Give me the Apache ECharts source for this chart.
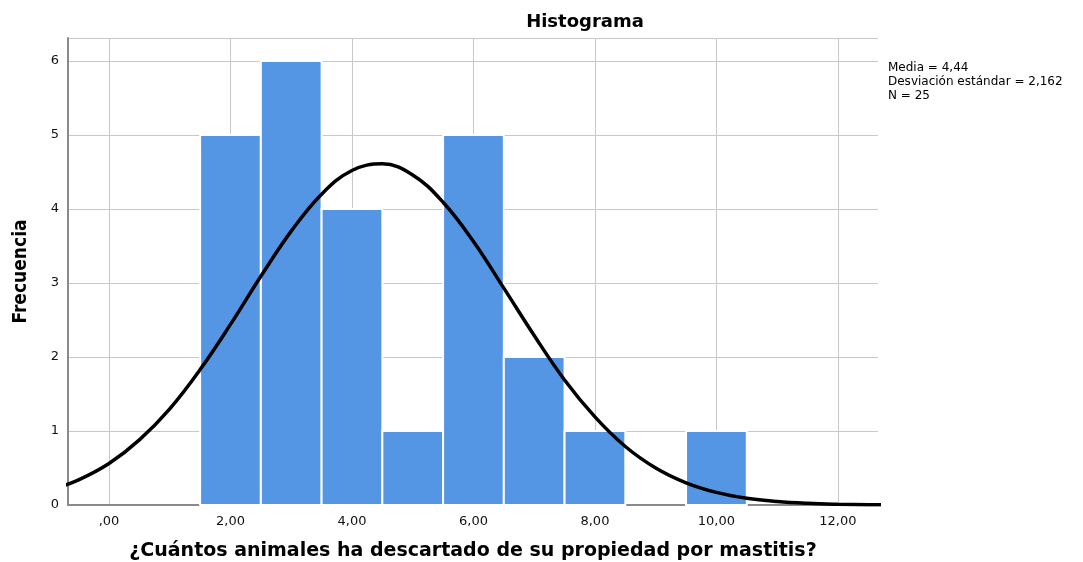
<!DOCTYPE html>
<html>
<head>
<meta charset="utf-8">
<script src="https://cdn.jsdelivr.net/npm/echarts@6/dist/echarts.min.js"></script>
<style>
  html, body { margin: 0; padding: 0; background: #fff; }
  #container { width: 1083px; height: 562px; }
</style>
</head>
<body>
<div id="container"></div>
<script>
// datos del histograma
var binCenters = [2, 3, 4, 5, 6, 7, 8, 10];
var binCounts = [5, 6, 4, 1, 5, 2, 1, 1];
var binWidth = 1;

// curva normal
var curveX = [-1, -0.5, 0, 0.5, 1, 1.5, 2, 2.5, 3, 3.5, 4, 4.5, 5, 5.5, 6, 6.5, 7, 7.5, 8, 8.5, 9, 9.5, 10, 10.5, 11, 11.5, 12, 12.5, 13];
var curveY = [0.19, 0.34, 0.56, 0.88, 1.30, 1.83, 2.44, 3.09, 3.70, 4.20, 4.52, 4.61, 4.46, 4.09, 3.56, 2.93, 2.29, 1.69, 1.19, 0.79, 0.50, 0.30, 0.17, 0.09, 0.046, 0.022, 0.010, 0.004, 0.002];

var xTickValues = [0, 2, 4, 6, 8, 10, 12];
var xTickLabels = [',00', '2,00', '4,00', '6,00', '8,00', '10,00', '12,00'];
var statsLines = ['Media = 4,44', 'Desviación estándar = 2,162', 'N = 25'];

var barData = [];
for (var i = 0; i < binCenters.length; i++) {
	barData.push([binCenters[i] - binWidth / 2, binCenters[i] + binWidth / 2, binCounts[i]]);
}
var curveData = [];
for (var j = 0; j < curveX.length; j++) {
	curveData.push([curveX[j], curveY[j]]);
}

var myChart = echarts.init(document.getElementById('container'));
var option = {
	backgroundColor: '#fff',
	animation: false,
	title: {
		text: 'Histograma',
		left: 580,
		top: 8,
		textAlign: 'center',
		textStyle: { fontFamily: 'DejaVu Sans', fontSize: 18, fontWeight: 'bold', color: '#000' }
	},
	graphic: [{
		type: 'text',
		x: 888,
		y: 61,
		style: {
			text: statsLines.join('\n'),
			font: '12px "DejaVu Sans"',
			lineHeight: 14,
			fill: '#000'
		}
	}],
	grid: { left: 68, right: 205, top: 38, bottom: 57, outerBoundsMode: 'none' },
	xAxis: {
		type: 'value',
		min: -0.675,
		max: 12.66,
		axisLine: { show: true, onZero: false, lineStyle: { color: '#8a8a8a', width: 2 } },
		axisTick: { show: false, customValues: xTickValues },
		axisLabel: {
			customValues: xTickValues,
			margin: 10,
			fontFamily: 'DejaVu Sans',
			fontSize: 13,
			color: '#111',
			formatter: function (v) {
				var k = xTickValues.indexOf(v);
				return k >= 0 ? xTickLabels[k] : '';
			}
		},
		splitLine: { show: true, lineStyle: { color: '#c8c8c8', width: 1 } },
		name: '¿Cuántos animales ha descartado de su propiedad por mastitis?',
		nameLocation: 'middle',
		nameGap: 37,
		nameTextStyle: { fontFamily: 'DejaVu Sans', fontSize: 19, fontWeight: 'bold', color: '#000' }
	},
	yAxis: {
		type: 'value',
		min: 0,
		max: 6.31,
		interval: 1,
		axisLine: { show: true, onZero: false, lineStyle: { color: '#8a8a8a', width: 2 } },
		axisTick: { show: false },
		axisLabel: {
			margin: 9,
			fontFamily: 'DejaVu Sans',
			fontSize: 13,
			color: '#111',
			showMaxLabel: false,
			formatter: function (v) { return v > 6 ? '' : String(v); }
		},
		splitLine: { show: true, lineStyle: { color: '#c8c8c8', width: 1 } },
		name: 'Frecuencia',
		nameLocation: 'middle',
		nameGap: 37,
		nameTextStyle: { fontFamily: 'Liberation Sans Narrow, DejaVu Sans Condensed, Arial', fontSize: 19, fontWeight: 'bold', color: '#000' }
	},
	series: [
		{
			type: 'custom',
			data: barData,
			encode: { x: [0, 1], y: 2 },
			renderItem: function (params, api) {
				var p0 = api.coord([api.value(0), api.value(2)]);
				var p1 = api.coord([api.value(1), 0]);
				return {
					type: 'rect',
					shape: { x: p0[0], y: p0[1], width: p1[0] - p0[0], height: p1[1] - p0[1] },
					style: { fill: '#5495e4', stroke: '#ffffff', lineWidth: 2 }
				};
			},
			z: 2
		},
		{
			type: 'line',
			data: curveData,
			smooth: 0.4,
			showSymbol: false,
			symbol: 'none',
			lineStyle: { color: '#000', width: 3.5 },
			clip: true,
			z: 3
		}
	]
};
myChart.setOption(option);
</script>
</body>
</html>
